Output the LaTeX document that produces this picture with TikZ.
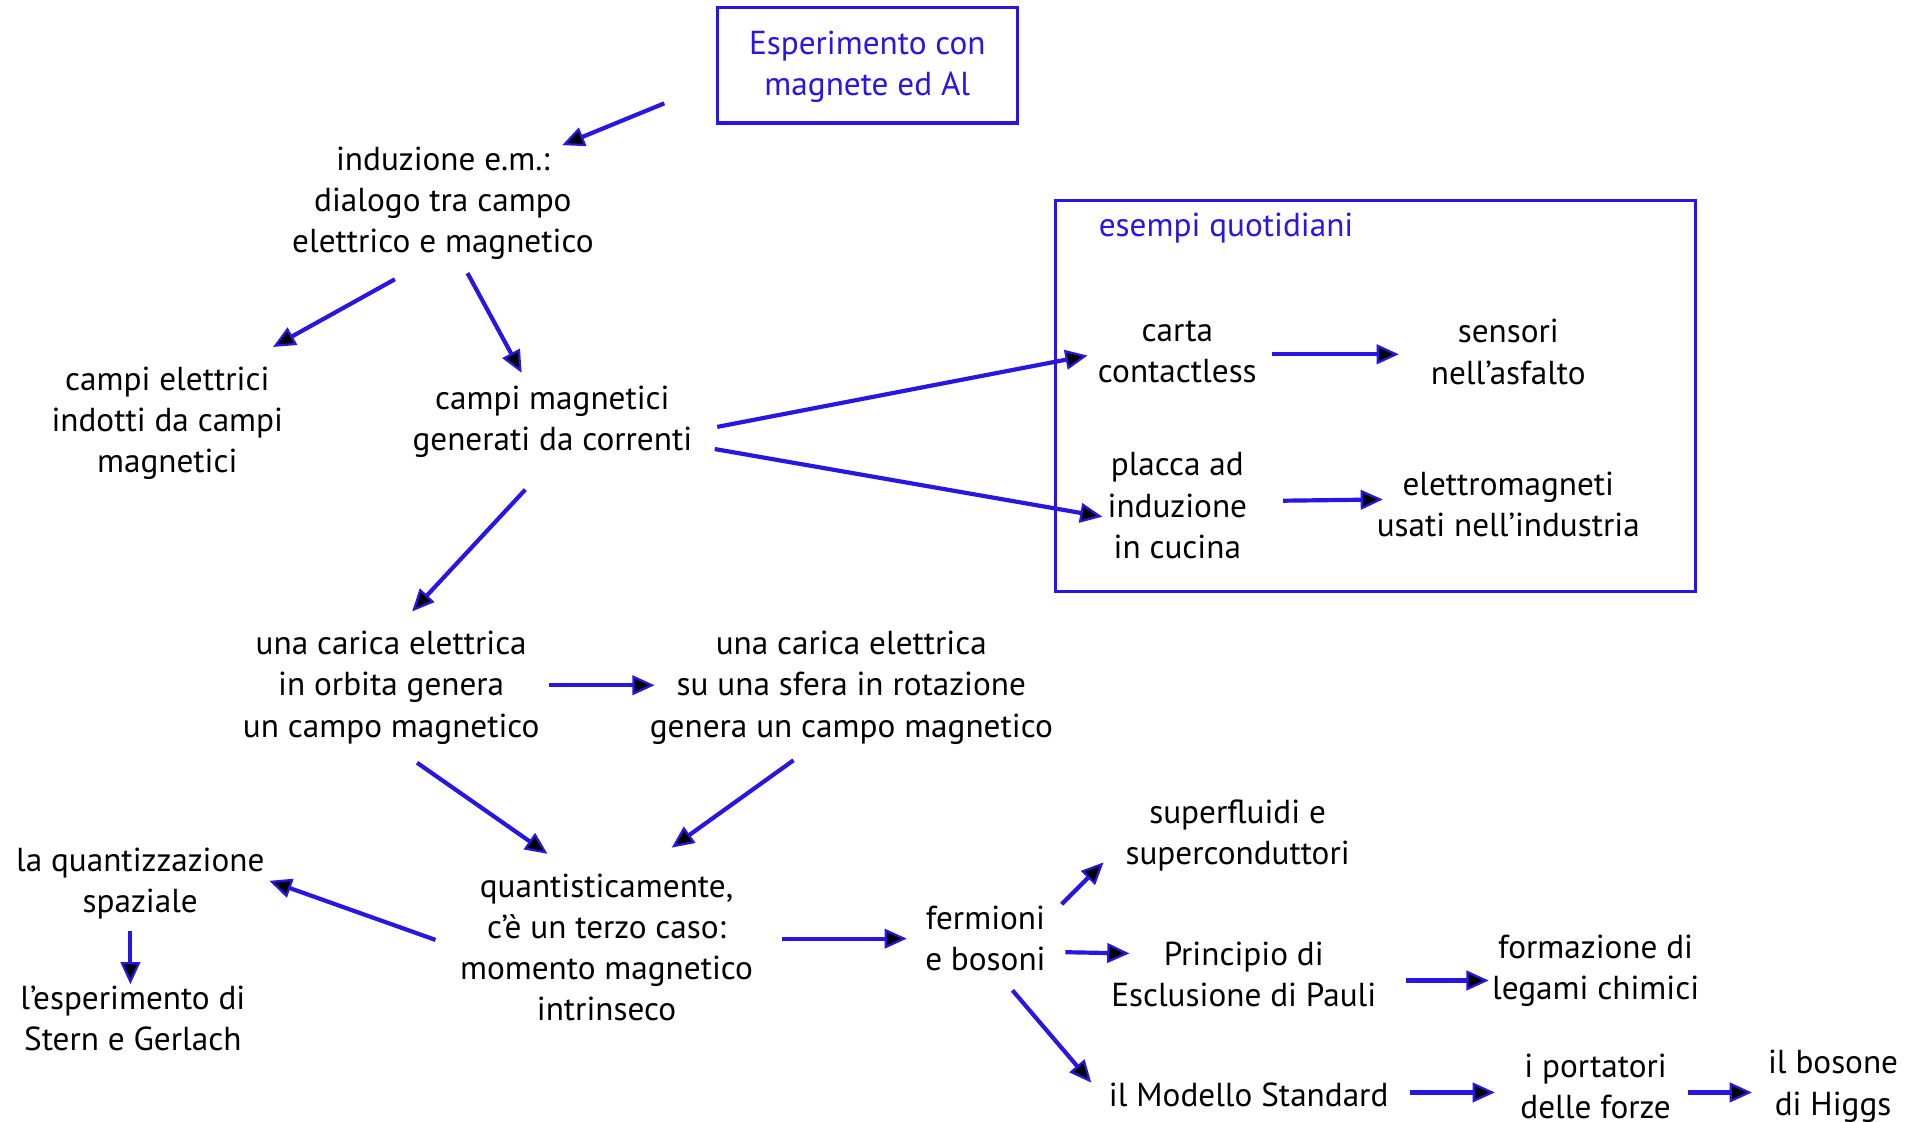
\documentclass[tikz,border=0pt]{standalone}
\usepackage{fontspec}
\setmainfont{PT Sans}
\usetikzlibrary{arrows.meta}
\definecolor{cblue}{RGB}{40,22,228}
\tikzset{
  txt/.style={align=center, inner sep=0pt, font=\fontsize{27}{33.5}\selectfont},
  btxt/.style={txt, text=cblue},
  arr/.style={draw=cblue, line width=3.4pt, -{Triangle[length=18pt,width=16pt,fill=black,line width=1.8pt]}},
  frame/.style={draw=cblue, line width=2.6pt}
}
\begin{document}
\begin{tikzpicture}[x=1pt,y=-1pt]
\useasboundingbox[fill=white] (0,0) rectangle (1568,912);
% boxes
\draw[frame] (583,6) rectangle (827,100);
\draw[frame] (858,163) rectangle (1378,481);
% nodes
\node[btxt] (esp) at (705,54) {Esperimento con\\magnete ed Al};
\node[btxt, anchor=west] (esq) at (893,185) {esempi quotidiani};
\node[txt] (ind) at (360,165) {induzione e.m.:\\dialogo tra campo\\elettrico e magnetico};
\node[txt] (cel) at (136,344) {campi elettrici\\indotti da campi\\magnetici};
\node[txt] (cmag) at (449,343) {campi magnetici\\generati da correnti};
\node[txt] (carta) at (957,286) {carta\\contactless};
\node[txt] (sens) at (1226,286) {sensori\\nell’asfalto};
\node[txt] (placca) at (957,411) {placca ad\\induzione\\in cucina};
\node[txt] (elettr) at (1226,410) {elettromagneti\\usati nell’industria};
\node[txt] (orb) at (318,559) {una carica elettrica\\in orbita genera\\un campo magnetico};
\node[txt] (sfera) at (692,559) {una carica elettrica\\su una sfera in rotazione\\genera un campo magnetico};
\node[txt] (quant) at (493,770) {quantisticamente,\\c’è un terzo caso:\\momento magnetico\\intrinseco};
\node[txt] (qspaz) at (114,718) {la quantizzazione\\spaziale};
\node[txt] (stern) at (108,828) {l’esperimento di\\Stern e Gerlach};
\node[txt] (ferm) at (801,763) {fermioni\\e bosoni};
\node[txt] (super) at (1006,679) {superfluidi e\\superconduttori};
\node[txt] (pauli) at (1011,792) {Principio di\\Esclusione di Pauli};
\node[txt] (legami) at (1297,789) {formazione di\\legami chimici};
\node[txt] (modello) at (1015,890) {il Modello Standard};
\node[txt] (port) at (1297,883) {i portatori\\delle forze};
\node[txt] (higgs) at (1490,883) {il bosone\\di Higgs};
% arrows
\draw[arr] ([shift={(-165,30)}]esp.center) -- ([shift={(97,-47)}]ind.center);
\draw[arr] ([shift={(-39,62)}]ind.center) -- ([shift={(86,-62)}]cel.center);
\draw[arr] ([shift={(20,57)}]ind.center) -- ([shift={(-25,-40)}]cmag.center);
\draw[arr] ([shift={(-22,55)}]cmag.center) -- ([shift={(17,-62)}]orb.center);
\draw[arr] ([shift={(134,4)}]cmag.center) -- ([shift={(-73,3)}]carta.center);
\draw[arr] ([shift={(132,22)}]cmag.center) -- ([shift={(-61,9)}]placca.center);
\draw[arr] ([shift={(77,2)}]carta.center) -- ([shift={(-89,2)}]sens.center);
\draw[arr] ([shift={(86,-4)}]placca.center) -- ([shift={(-102,-4)}]elettr.center);
\draw[arr] ([shift={(128,-2)}]orb.center) -- ([shift={(-160,-2)}]sfera.center);
\draw[arr] ([shift={(21,61)}]orb.center) -- ([shift={(-48,-76)}]quant.center);
\draw[arr] ([shift={(-47,59)}]sfera.center) -- ([shift={(53,-81)}]quant.center);
\draw[arr] ([shift={(-139,-6)}]quant.center) -- ([shift={(105,-2)}]qspaz.center);
\draw[arr] ([shift={(-8,39)}]qspaz.center) -- ([shift={(-2,-28)}]stern.center);
\draw[arr] ([shift={(143,-7)}]quant.center) -- ([shift={(-64,0)}]ferm.center);
\draw[arr] ([shift={(62,-28)}]ferm.center) -- ([shift={(-109,22)}]super.center);
\draw[arr] ([shift={(65,11)}]ferm.center) -- ([shift={(-93,-17)}]pauli.center);
\draw[arr] ([shift={(22,42)}]ferm.center) -- ([shift={(-128,-10)}]modello.center);
\draw[arr] ([shift={(132,5)}]pauli.center) -- ([shift={(-87,8)}]legami.center);
\draw[arr] ([shift={(131,-2)}]modello.center) -- ([shift={(-82,5)}]port.center);
\draw[arr] ([shift={(75,5)}]port.center) -- ([shift={(-66,5)}]higgs.center);
\end{tikzpicture}
\end{document}
